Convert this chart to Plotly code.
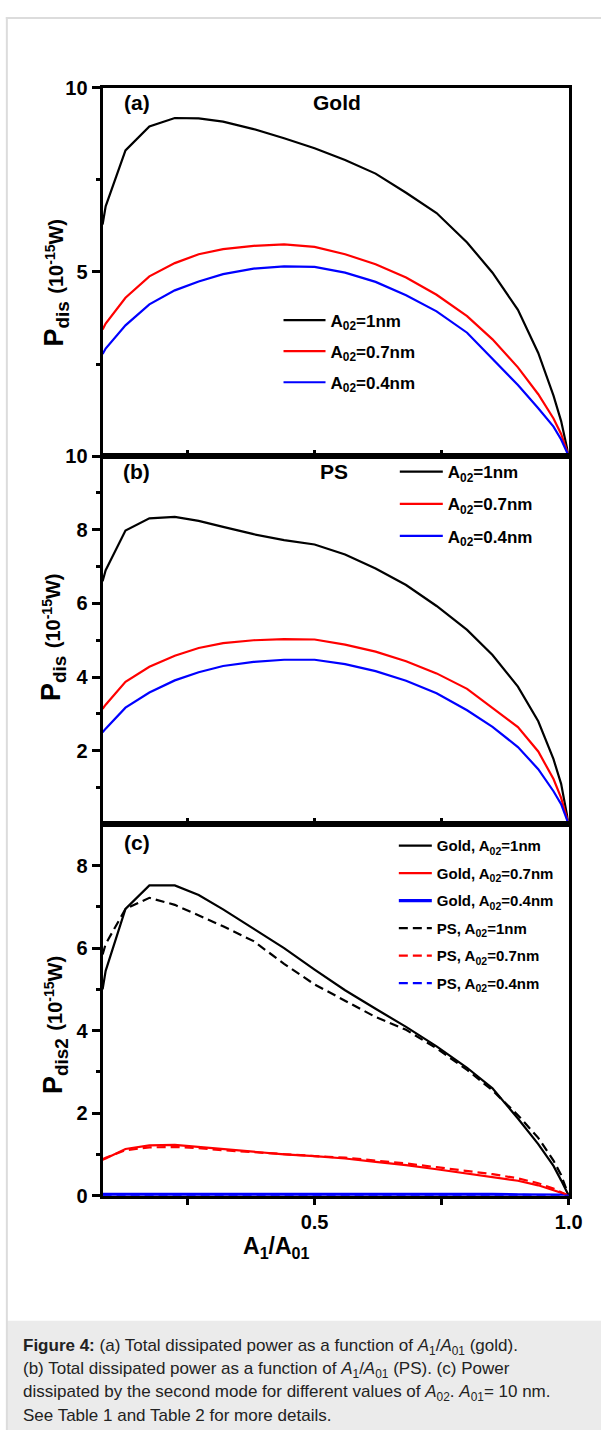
import plotly.graph_objects as go

# ---------------- data ----------------
x_ratio = [0.083, 0.089, 0.128, 0.175, 0.225, 0.272, 0.32, 0.38, 0.44, 0.5,
           0.56, 0.62, 0.68, 0.74, 0.8, 0.85, 0.9, 0.94, 0.97, 0.985, 1.0]

# (a) Gold, total dissipated power
gold_a02_1 = [6.29, 6.78, 8.3, 8.95, 9.18, 9.17, 9.08, 8.88, 8.63, 8.36,
              8.04, 7.67, 7.15, 6.6, 5.8, 4.98, 3.97, 2.8, 1.64, 0.95, 0.0]
gold_a02_07 = [3.44, 3.6, 4.3, 4.88, 5.24, 5.48, 5.62, 5.71, 5.75, 5.68,
               5.48, 5.21, 4.85, 4.38, 3.8, 3.17, 2.41, 1.68, 1.02, 0.6, 0.0]
gold_a02_04 = [2.77, 2.92, 3.55, 4.12, 4.5, 4.74, 4.94, 5.09, 5.15, 5.14,
               4.98, 4.73, 4.37, 3.93, 3.35, 2.63, 1.93, 1.3, 0.8, 0.45, 0.0]

# (b) PS, total dissipated power
ps_a02_1 = [6.6, 6.9, 7.98, 8.31, 8.35, 8.24, 8.08, 7.88, 7.72, 7.6,
            7.33, 6.95, 6.5, 5.93, 5.28, 4.6, 3.74, 2.8, 1.77, 1.1, 0.0]
ps_a02_07 = [3.14, 3.25, 3.87, 4.28, 4.58, 4.79, 4.92, 5.0, 5.03, 5.02,
             4.88, 4.69, 4.43, 4.1, 3.68, 3.17, 2.64, 1.98, 1.23, 0.72, 0.0]
ps_a02_04 = [2.5, 2.6, 3.17, 3.58, 3.91, 4.13, 4.3, 4.41, 4.47, 4.47,
             4.35, 4.16, 3.9, 3.56, 3.1, 2.65, 2.1, 1.5, 0.9, 0.55, 0.0]

# (c) power dissipated by the second mode
gold2_a02_1 = [5.0, 5.45, 6.95, 7.52, 7.52, 7.29, 6.94, 6.48, 6.0, 5.48,
               4.98, 4.53, 4.09, 3.62, 3.1, 2.6, 1.87, 1.25, 0.72, 0.37, 0.0]
gold2_a02_07 = [0.87, 0.9, 1.13, 1.22, 1.23, 1.18, 1.12, 1.06, 1.0, 0.96,
                0.9, 0.82, 0.74, 0.64, 0.54, 0.46, 0.36, 0.25, 0.14, 0.07, 0.0]
gold2_a02_04 = [0.03, 0.03, 0.04, 0.04, 0.04, 0.04, 0.04, 0.04, 0.04, 0.04,
                0.04, 0.04, 0.03, 0.03, 0.03, 0.03, 0.02, 0.02, 0.01, 0.01, 0.0]
ps2_a02_1 = [5.85, 6.1, 6.95, 7.22, 7.05, 6.8, 6.53, 6.17, 5.62, 5.12,
             4.72, 4.33, 4.02, 3.57, 3.05, 2.55, 1.95, 1.4, 0.85, 0.5, 0.0]
ps2_a02_07 = [0.88, 0.92, 1.1, 1.17, 1.18, 1.15, 1.1, 1.05, 1.0, 0.96,
              0.92, 0.85, 0.78, 0.69, 0.6, 0.52, 0.42, 0.3, 0.17, 0.09, 0.0]
ps2_a02_04 = [0.02, 0.02, 0.03, 0.03, 0.03, 0.03, 0.03, 0.03, 0.03, 0.03,
              0.03, 0.03, 0.02, 0.02, 0.02, 0.02, 0.02, 0.01, 0.01, 0.01, 0.0]

names_ab = ["A<sub>02</sub>=1nm", "A<sub>02</sub>=0.7nm", "A<sub>02</sub>=0.4nm"]
names_c = ["Gold, A<sub>02</sub>=1nm", "Gold, A<sub>02</sub>=0.7nm", "Gold, A<sub>02</sub>=0.4nm",
           "PS, A<sub>02</sub>=1nm", "PS, A<sub>02</sub>=0.7nm", "PS, A<sub>02</sub>=0.4nm"]
colors = ["#000000", "#ff0000", "#0000ff"]

x_ticks = [0.5, 1.0]
x_range = [0.083, 1.0]

# ---------------- figure ----------------
W, H = 615, 1441
FONT = "Liberation Sans, Arial, sans-serif"

def py(p):
    return 1 - p / H

def px(p):
    return p / W

fig = go.Figure()

panel_a = [gold_a02_1, gold_a02_07, gold_a02_04]
panel_b = [ps_a02_1, ps_a02_07, ps_a02_04]
for i, ys in enumerate(panel_a):
    fig.add_trace(go.Scatter(x=x_ratio, y=ys, mode="lines", name=names_ab[i],
                             line=dict(color=colors[i], width=2.2),
                             xaxis="x", yaxis="y", legend="legend",
                             legendgroup="a%d" % i))
for i, ys in enumerate(panel_b):
    fig.add_trace(go.Scatter(x=x_ratio, y=ys, mode="lines", name=names_ab[i],
                             line=dict(color=colors[i], width=2.2),
                             xaxis="x2", yaxis="y2", legend="legend2",
                             legendgroup="b%d" % i))
panel_c = [gold2_a02_1, gold2_a02_07, gold2_a02_04, ps2_a02_1, ps2_a02_07, ps2_a02_04]
for i, ys in enumerate(panel_c):
    dash = "solid" if i < 3 else "9px,5px"
    wid = 3.2 if i == 2 else 2.2
    fig.add_trace(go.Scatter(x=x_ratio, y=ys, mode="lines", name=names_c[i],
                             line=dict(color=colors[i % 3], width=wid, dash=dash),
                             xaxis="x3", yaxis="y3", legend="legend3",
                             legendgroup="c%d" % i))

xdom = [px(105), px(582)]
dom_a = [py(452), py(78)]
dom_b = [py(826), py(452)]
dom_c = [py(1203), py(826)]

tickfont = dict(family=FONT, size=20, color="black", weight="bold")

def xaxis(domain_anchor, ticks, showlabels):
    return dict(domain=xdom, anchor=domain_anchor, range=x_range,
                tickvals=x_ticks, ticktext=["0.5", "1.0"],
                showticklabels=showlabels, ticks=ticks, ticklen=6, tickwidth=2.5,
                tickcolor="black",
                minor=dict(tickvals=[0.25, 0.75], ticks=ticks, ticklen=6,
                           tickwidth=2.5, tickcolor="black"),
                showline=True, linewidth=3, linecolor="black", mirror=True,
                showgrid=False, zeroline=False, tickfont=tickfont)

def yaxis(domain, anchor, rng, tickvals, minorvals):
    return dict(domain=domain, anchor=anchor, range=rng,
                tickvals=tickvals, ticks="outside", ticklen=8, tickwidth=2.5,
                tickcolor="black",
                minor=dict(tickvals=minorvals, ticks="outside", ticklen=4,
                           tickwidth=2.5, tickcolor="black"),
                showline=True, linewidth=3, linecolor="black", mirror=True,
                showgrid=False, zeroline=False, tickfont=tickfont)

leg_common = dict(xanchor="left", yanchor="top", bgcolor="rgba(0,0,0,0)",
                  borderwidth=0, orientation="v", itemclick=False,
                  itemdoubleclick=False)

fig.update_layout(
    width=W, height=H, margin=dict(l=0, r=0, t=0, b=0),
    paper_bgcolor="white", plot_bgcolor="white",
    font=dict(family=FONT, size=16, color="black"),
    xaxis=xaxis("y", "inside", False),
    xaxis2=xaxis("y2", "inside", False),
    xaxis3=xaxis("y3", "outside", True),
    yaxis=yaxis(dom_a, "x", [0, 10], [5, 10], [2.5, 7.5]),
    yaxis2=yaxis(dom_b, "x2", [0, 10], [2, 4, 6, 8, 10], [1, 3, 5, 7, 9]),
    yaxis3=yaxis(dom_c, "x3", [0, 9], [0, 2, 4, 6, 8], [1, 3, 5, 7]),
    legend=dict(x=px(285), y=py(296), font=dict(family=FONT, size=17, weight="bold"),
                tracegroupgap=6, itemwidth=42, **leg_common),
    legend2=dict(x=px(404), y=py(450), font=dict(family=FONT, size=17, weight="bold"),
                 tracegroupgap=7, itemwidth=43, **leg_common),
    legend3=dict(x=px(403), y=py(831), font=dict(family=FONT, size=15, weight="bold"),
                 tracegroupgap=5, itemwidth=33, **leg_common),
    showlegend=True,
)

ann = []
ytitle = ("<b>P<sub>%s</sub> <span style='font-size:20px'>(10<sup>-15</sup>W)</span></b>")
for label, xc, yc in [("dis", 57, 276), ("dis", 55, 636), ("dis2", 57, 1030)]:
    ann.append(dict(text=ytitle % label, x=px(xc), y=py(yc), xref="paper", yref="paper",
                    textangle=-90, showarrow=False, xanchor="center", yanchor="middle",
                    font=dict(family=FONT, size=27, color="black")))
ann.append(dict(text="<b>A<sub>1</sub>/A<sub>01</sub></b>", x=px(283), y=py(1256),
                xref="paper", yref="paper", showarrow=False, xanchor="center",
                yanchor="middle", font=dict(family=FONT, size=23, color="black")))
for t, xc, yc in [("(a)", 140, 93), ("Gold", 345, 93), ("(b)", 140, 468),
                  ("PS", 342, 468), ("(c)", 140, 844)]:
    ann.append(dict(text="<b>%s</b>" % t, x=px(xc), y=py(yc), xref="paper", yref="paper",
                    showarrow=False, xanchor="center", yanchor="middle",
                    font=dict(family=FONT, size=21, color="black")))

caption = [
    "<b>Figure 4:</b> (a) Total dissipated power as a function of <i>A</i><sub>1</sub>/<i>A</i><sub>01</sub> (gold).",
    "(b) Total dissipated power as a function of <i>A</i><sub>1</sub>/<i>A</i><sub>01</sub> (PS). (c) Power",
    "dissipated by the second mode for different values of <i>A</i><sub>02</sub>. <i>A</i><sub>01</sub>= 10 nm.",
    "See Table 1 and Table 2 for more details.",
]
for k, line in enumerate(caption):
    ann.append(dict(text=line, x=px(22), y=py(1357 + 23 * k), xref="paper", yref="paper",
                    showarrow=False, xanchor="left", yanchor="middle",
                    font=dict(family=FONT, size=17, color="#222222")))
fig.update_layout(annotations=ann)

shapes = [
    dict(type="rect", xref="paper", yref="paper", x0=px(7), x1=1, y0=0, y1=py(1330),
         fillcolor="#ebebeb", line=dict(width=0), layer="below"),
    dict(type="line", xref="paper", yref="paper", x0=px(7), x1=px(7), y0=0, y1=py(6),
         line=dict(color="#dcdcdc", width=2)),
    dict(type="line", xref="paper", yref="paper", x0=px(6), x1=1, y0=py(7), y1=py(7),
         line=dict(color="#dcdcdc", width=2)),
]
fig.update_layout(shapes=shapes)

fig.write_html("out.html")
